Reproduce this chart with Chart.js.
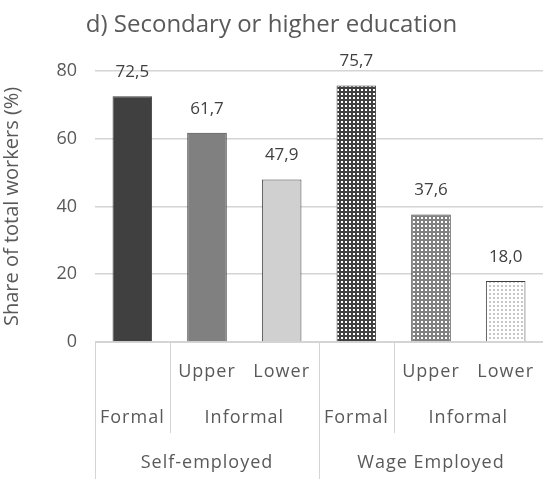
<!DOCTYPE html>
<html>
<head>
<meta charset="utf-8">
<script src="https://cdn.jsdelivr.net/npm/chart.js@4"></script>
<style>
  body { margin: 0; background: #fff; }
  canvas { display: block; }
</style>
</head>
<body>
<canvas id="eduChart" width="543" height="479"></canvas>
<script>
// values
const categories = ['SE-Formal', 'SE-Upper', 'SE-Lower', 'WE-Formal', 'WE-Upper', 'WE-Lower'];
const shares = [72.5, 61.7, 47.9, 75.7, 37.6, 18.0];
const yTicks = [0, 20, 40, 60, 80];

// multi-level axis labels
const levelOne = ['', 'Upper', 'Lower', '', 'Upper', 'Lower'];
const levelTwo = [['Formal', 0, 0], ['Informal', 1, 2], ['Formal', 3, 3], ['Informal', 4, 5]];
const levelThree = [['Self-employed', 0, 2], ['Wage Employed', 3, 5]];

const textColor = '#595959';
const lineColor = '#d4d4d4';
const font = 'Open Sans';

// small dotted fill like the excel pattern fills
function dotPattern(bg, dot) {
    const c = document.createElement('canvas');
    c.width = 4; c.height = 4;
    const x = c.getContext('2d');
    x.fillStyle = bg;
    x.fillRect(0, 0, 4, 4);
    x.fillStyle = dot;
    x.fillRect(1, 1, 2, 2);
    return x.createPattern(c, 'repeat');
}

const fills = [
    '#404040',
    '#808080',
    '#d0d0d0',
    dotPattern('#404040', '#ffffff'),
    dotPattern('#808080', '#ffffff'),
    dotPattern('#ffffff', '#c8c8c8')
];

// value labels above bars, comma decimals
const valueLabels = {
    id: 'valueLabels',
    afterDatasetsDraw: (chart) => {
        const { ctx } = chart;
        const meta = chart.getDatasetMeta(0);
        ctx.save();
        ctx.font = '17px "' + font + '"';
        ctx.fillStyle = '#404040';
        ctx.textAlign = 'center';
        ctx.textBaseline = 'middle';
        meta.data.forEach((bar, i) => {
            ctx.fillText(shares[i].toFixed(1).replace('.', ','), bar.x, bar.y - 24);
        });
        ctx.restore();
    }
};

// grouped category axis below the plot
const groupAxis = {
    id: 'groupAxis',
    afterDraw: (chart) => {
        const { ctx, chartArea } = chart;
        const xs = chart.scales.x;
        const half = (xs.getPixelForValue(1) - xs.getPixelForValue(0)) / 2;
        const left = (i) => xs.getPixelForValue(i) - half;
        const right = (i) => xs.getPixelForValue(i) + half;
        const top = chartArea.bottom;
        const bottom = chart.height;
        const rowY = [top + 30, top + 76, top + 121];
        const midLine = top + 91;

        ctx.save();
        ctx.strokeStyle = lineColor;
        ctx.lineWidth = 1;
        ctx.beginPath();
        ctx.moveTo(chartArea.left, top + 0.5);
        ctx.lineTo(chartArea.right, top + 0.5);
        // outer group borders run to the bottom
        [0, 3].forEach((i) => {
            const x = Math.round(left(i)) + 0.5;
            ctx.moveTo(x, top);
            ctx.lineTo(x, bottom);
        });
        // inner borders stop above the last row
        levelTwo.forEach(([, a]) => {
            if (a === 0 || a === 3) return;
            const x = Math.round(left(a)) + 0.5;
            ctx.moveTo(x, top);
            ctx.lineTo(x, midLine);
        });
        ctx.stroke();

        ctx.fillStyle = textColor;
        ctx.font = '18px "' + font + '"';
        ctx.letterSpacing = '1px';
        ctx.textAlign = 'center';
        ctx.textBaseline = 'middle';
        levelOne.forEach((t, i) => {
            if (t) ctx.fillText(t, xs.getPixelForValue(i), rowY[0]);
        });
        levelTwo.forEach(([t, a, b]) => {
            ctx.fillText(t, (left(a) + right(b)) / 2, rowY[1]);
        });
        levelThree.forEach(([t, a, b]) => {
            ctx.fillText(t, (left(a) + right(b)) / 2, rowY[2]);
        });
        ctx.restore();
    }
};

new Chart(document.getElementById('eduChart').getContext('2d'), {
    type: 'bar',
    data: {
        labels: categories,
        datasets: [{
            data: shares,
            backgroundColor: fills,
            borderColor: '#404040',
            borderWidth: 1,
            barPercentage: 0.53,
            categoryPercentage: 1
        }]
    },
    options: {
        responsive: false,
        animation: false,
        layout: { padding: 0 },
        plugins: {
            legend: { display: false },
            tooltip: { enabled: false },
            title: {
                display: true,
                text: 'd) Secondary or higher education',
                color: textColor,
                font: { family: font, size: 24, weight: 'normal' },
                padding: { top: 11, bottom: 31 }
            }
        },
        scales: {
            x: {
                ticks: { display: false },
                grid: { display: false },
                border: { display: false },
                afterFit: (scale) => { scale.height = 137; }
            },
            y: {
                min: 0,
                max: 80,
                afterBuildTicks: (scale) => { scale.ticks = yTicks.map((v) => ({ value: v })); },
                ticks: {
                    color: textColor,
                    padding: 18,
                    font: { family: font, size: 18 }
                },
                grid: { color: lineColor, lineWidth: 1.5, drawTicks: false },
                border: { display: false },
                title: {
                    display: true,
                    text: 'Share of total workers (%)',
                    color: textColor,
                    font: { family: font, size: 20 },
                    padding: { top: 0, bottom: 0 }
                },
                afterFit: (scale) => { scale.width = 95; }
            }
        }
    },
    plugins: [valueLabels, groupAxis]
});
</script>
</body>
</html>
